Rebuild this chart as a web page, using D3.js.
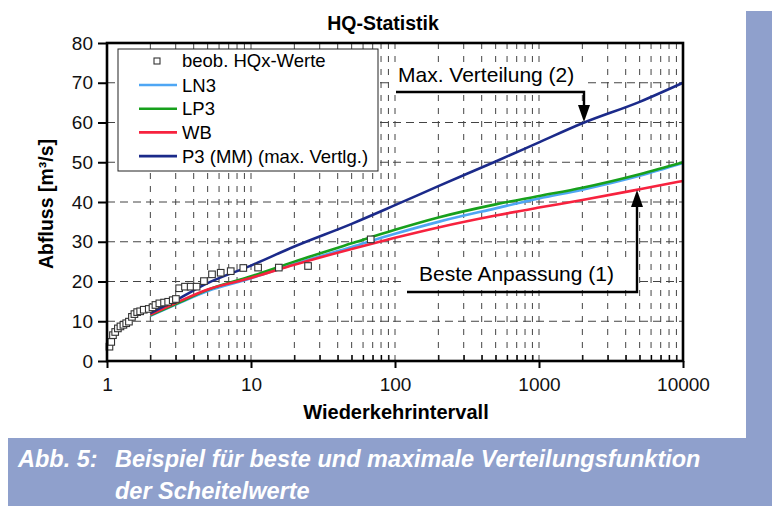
<!DOCTYPE html>
<html>
<head>
<meta charset="utf-8">
<script src="https://cdn.jsdelivr.net/npm/d3@7"></script>
<style>
  body { margin: 0; background: #fff; }
  svg { display: block; font-family: "Liberation Sans", Arial, sans-serif; }
</style>
</head>
<body>
<svg width="772" height="506"></svg>
<script>
// observed annual peaks (return period, discharge)
var obsT = [1.04, 1.07, 1.10, 1.14, 1.19, 1.24, 1.30, 1.36, 1.42, 1.49, 1.55, 1.62, 1.70, 1.80, 1.95,
            2.07, 2.17, 2.31, 2.49, 2.66, 2.86, 3.01, 3.17, 3.48, 3.81, 4.19, 4.71, 5.36, 6.16, 7.23,
            8.84, 11.2, 15.6, 24.9, 67.8];
var obsQ = [3.6, 4.8, 6.5, 7.3, 8.2, 8.7, 9.1, 9.5, 9.9, 11.1, 11.8, 12.3, 12.5, 12.9, 13.1,
            13.5, 14.1, 14.5, 14.7, 14.9, 15.3, 15.6, 18.3, 18.7, 18.7, 18.7, 20.1, 21.8, 22.2, 22.6,
            23.4, 23.5, 23.5, 23.9, 30.6];

// fitted distributions
var fitT = [2, 3, 5, 10, 20, 50, 100, 200, 500, 1000, 2000, 5000, 10000];
var ln3  = [11.4, 14.2, 17.6, 20.8, 24.4, 28.7, 32.0, 35.0, 38.4, 40.9, 43.1, 46.6, 49.8];
var lp3  = [11.5, 14.3, 17.9, 21.3, 25.0, 29.6, 33.0, 36.1, 39.4, 41.5, 43.6, 47.0, 50.0];
var wb   = [11.7, 14.6, 18.0, 20.9, 24.2, 28.2, 31.0, 33.6, 36.6, 38.6, 40.5, 43.2, 45.3];
var p3   = [12.0, 15.3, 19.6, 24.0, 28.8, 34.5, 39.2, 44.0, 50.2, 55.0, 59.8, 65.2, 70.0];

var xMajor = [1, 10, 100, 1000, 10000];
var yTicks = [0, 10, 20, 30, 40, 50, 60, 70, 80];

var series = [
  {name: "LN3", values: ln3, color: "#4ea6f4"},
  {name: "LP3", values: lp3, color: "#17a01c"},
  {name: "WB", values: wb, color: "#f7223e"},
  {name: "P3 (MM) (max. Vertlg.)", values: p3, color: "#1b2a8a"}
];

var svg = d3.select("svg");
var pLeft = 107, pRight = 683, pTop = 43, pBottom = 361;

var x = d3.scaleLog().domain([1, 10000]).range([pLeft, pRight]);
var y = d3.scaleLinear().domain([0, 80]).range([pBottom, pTop]);

// minor values 2..9 per decade
var xMinor = [];
[1, 10, 100, 1000].forEach(function(d) {
  for (var k = 2; k <= 9; k++) xMinor.push(d * k);
});

// side band and caption band
svg.append("rect").attr("x", 746).attr("y", 11).attr("width", 26).attr("height", 430).attr("fill", "#8fa0cc");
svg.append("rect").attr("x", 8).attr("y", 438).attr("width", 764).attr("height", 68).attr("fill", "#8fa0cc");

var cap = svg.append("g").attr("fill", "#fff").attr("font-size", 23.5)
  .attr("font-weight", "bold").attr("font-style", "italic");
cap.append("text").attr("x", 18).attr("y", 467).text("Abb. 5:");
cap.append("text").attr("x", 115).attr("y", 467).text("Beispiel für beste und maximale Verteilungsfunktion");
cap.append("text").attr("x", 115).attr("y", 499).text("der Scheitelwerte");

// grid
svg.append("g").selectAll("line").data(yTicks.slice(1, -1)).join("line")
  .attr("x1", pLeft).attr("x2", pRight)
  .attr("y1", function(d) { return y(d); }).attr("y2", function(d) { return y(d); })
  .attr("stroke", "#444").attr("stroke-width", 1).attr("stroke-dasharray", "8,5");

svg.append("g").selectAll("line").data(xMinor.concat([10, 100, 1000])).join("line")
  .attr("x1", function(d) { return x(d); }).attr("x2", function(d) { return x(d); })
  .attr("y1", pTop).attr("y2", pBottom)
  .attr("stroke", "#444").attr("stroke-width", 1).attr("stroke-dasharray", "6,7");

// legend box and annotation backgrounds
svg.append("rect").attr("x", 118).attr("y", 49).attr("width", 260).attr("height", 122)
  .attr("fill", "#fff").attr("stroke", "#222").attr("stroke-width", 1);
svg.append("rect").attr("x", 393).attr("y", 62).attr("width", 193).attr("height", 26).attr("fill", "#fff");
svg.append("rect").attr("x", 402).attr("y", 257).attr("width", 235).attr("height", 32).attr("fill", "#fff");

// curves
var line = d3.line()
  .x(function(d) { return x(d[0]); })
  .y(function(d) { return y(d[1]); })
  .curve(d3.curveMonotoneX);

series.forEach(function(s) {
  svg.append("path")
    .datum(fitT.map(function(t, i) { return [t, s.values[i]]; }))
    .attr("fill", "none").attr("stroke", s.color).attr("stroke-width", 2.6)
    .attr("d", line);
});

// observed points
svg.append("g").selectAll("rect").data(obsT.map(function(t, i) { return [t, obsQ[i]]; })).join("rect")
  .attr("x", function(d) { return x(d[0]) - 3.3; })
  .attr("y", function(d) { return y(d[1]) - 3.3; })
  .attr("width", 6.6).attr("height", 6.6)
  .attr("fill", "#fff").attr("stroke", "#333").attr("stroke-width", 1.1);

// axes
var yAxis = svg.append("g").attr("transform", "translate(" + pLeft + ",0)")
  .call(d3.axisLeft(y).tickValues(yTicks).tickSize(9).tickPadding(5));
var xAxis = svg.append("g").attr("transform", "translate(0," + pBottom + ")")
  .call(d3.axisBottom(x).tickValues(xMajor).tickSize(7).tickPadding(10).tickFormat(d3.format("d")));
var xMin = svg.append("g").attr("transform", "translate(0," + pBottom + ")")
  .call(d3.axisBottom(x).tickValues(xMinor).tickSize(-6).tickFormat(""));

[yAxis, xAxis, xMin].forEach(function(g) {
  g.select(".domain").remove();
  g.selectAll(".tick line").attr("stroke", "#000").attr("stroke-width", 2);
  g.selectAll("text").attr("font-size", 19).attr("fill", "#111")
    .attr("font-family", "'Liberation Sans', Arial, sans-serif");
});
xMin.selectAll(".tick line").attr("stroke-width", 1.2);

// frame
svg.append("rect").attr("x", pLeft).attr("y", pTop).attr("width", pRight - pLeft).attr("height", pBottom - pTop)
  .attr("fill", "none").attr("stroke", "#000").attr("stroke-width", 2.6);

// titles
svg.append("text").attr("x", 383).attr("y", 30).attr("text-anchor", "middle")
  .attr("font-size", 19.5).attr("font-weight", "bold").text("HQ-Statistik");
svg.append("text").attr("x", 396).attr("y", 419).attr("text-anchor", "middle")
  .attr("font-size", 20).attr("font-weight", "bold").text("Wiederkehrintervall");
svg.append("text").attr("transform", "translate(53,204) rotate(-90)").attr("text-anchor", "middle")
  .attr("font-size", 19.5).attr("font-weight", "bold").text("Abfluss [m³/s]");

// legend entries
var lg = svg.append("g");
lg.append("rect").attr("x", 154).attr("y", 58).attr("width", 6).attr("height", 6)
  .attr("fill", "#fff").attr("stroke", "#333").attr("stroke-width", 1.1);
lg.append("text").attr("x", 182).attr("y", 67).attr("font-size", 18.5).text("beob. HQx-Werte");
series.forEach(function(s, i) {
  var yy = 85 + i * 23.7;
  lg.append("line").attr("x1", 139).attr("x2", 177).attr("y1", yy).attr("y2", yy)
    .attr("stroke", s.color).attr("stroke-width", 2.6);
  lg.append("text").attr("x", 182).attr("y", yy + 6.5).attr("font-size", 18.5).text(s.name);
});

// annotations with arrows
svg.append("text").attr("x", 398).attr("y", 82).attr("font-size", 21).text("Max. Verteilung (2)");
svg.append("path").attr("d", "M396,92H584V106").attr("fill", "none").attr("stroke", "#000").attr("stroke-width", 2.4);
svg.append("path").attr("d", "M578,105L590,105L584,122Z").attr("fill", "#000");

svg.append("text").attr("x", 419).attr("y", 281).attr("font-size", 21).text("Beste Anpassung (1)");
svg.append("path").attr("d", "M407,292H637V206").attr("fill", "none").attr("stroke", "#000").attr("stroke-width", 2.4);
svg.append("path").attr("d", "M631,207L643,207L637,190Z").attr("fill", "#000");
</script>
</body>
</html>
